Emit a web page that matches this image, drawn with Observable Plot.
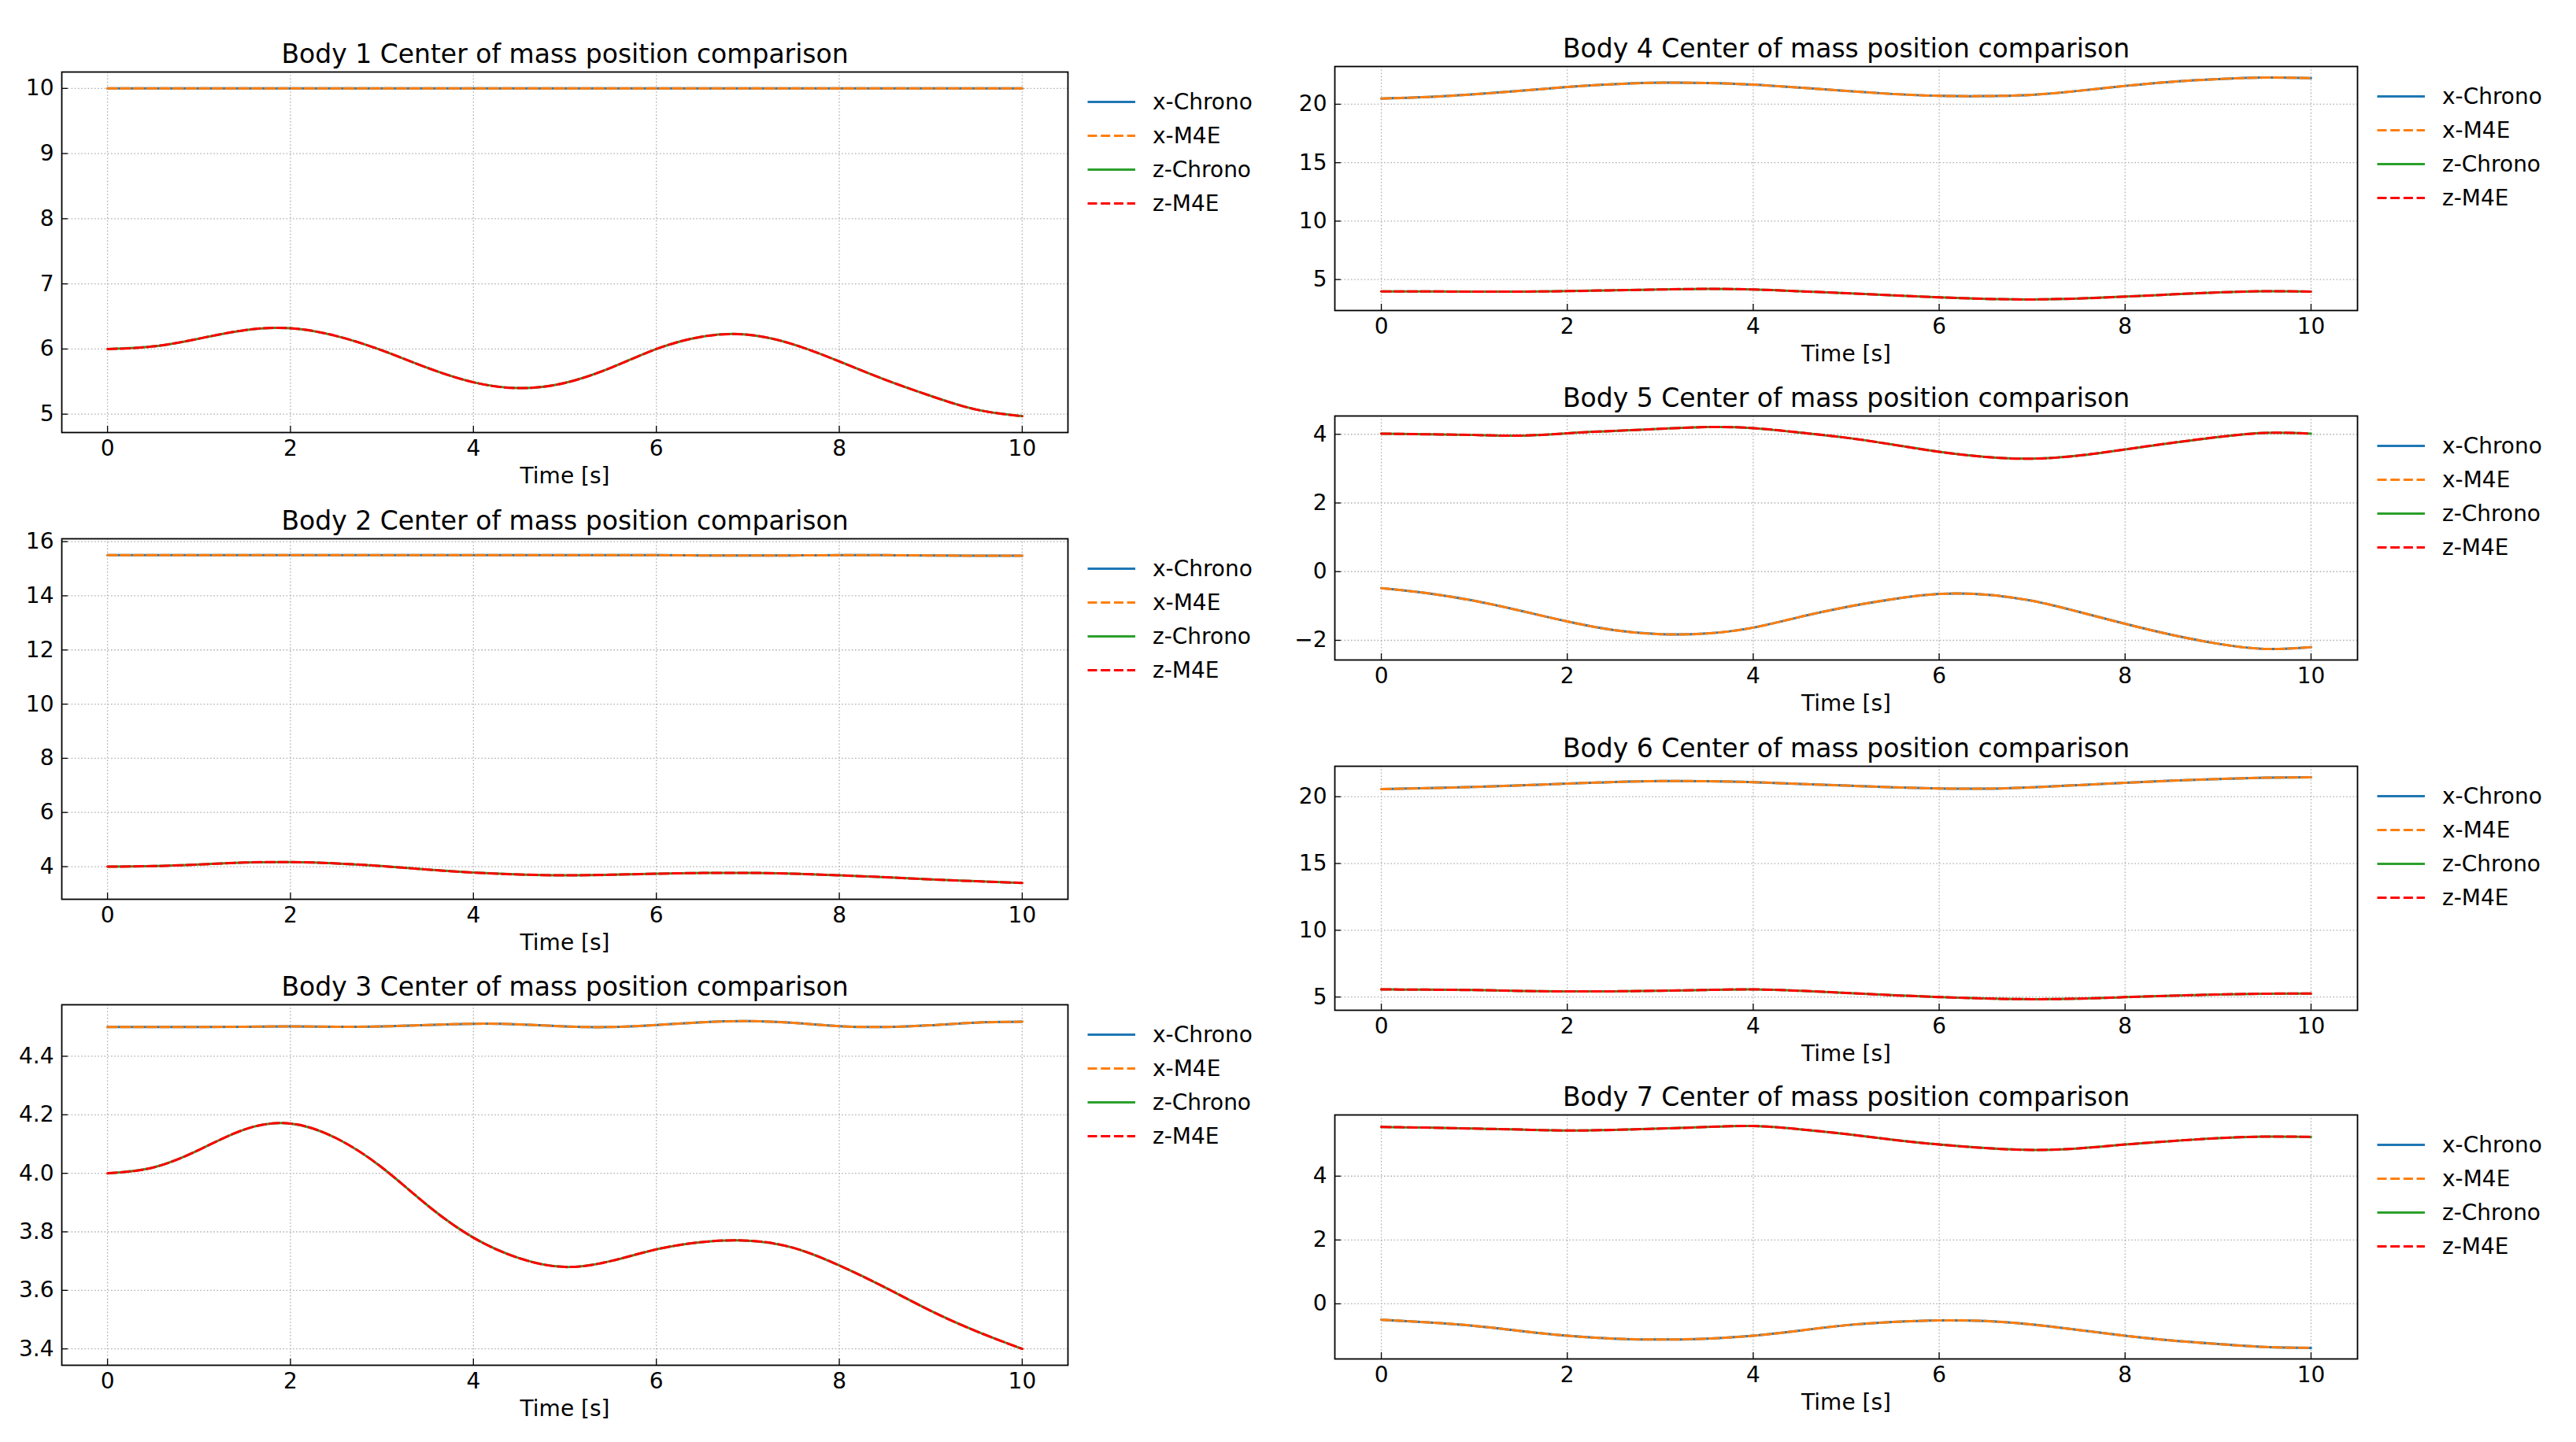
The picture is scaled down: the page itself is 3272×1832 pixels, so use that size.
<!DOCTYPE html>
<html><head><meta charset="utf-8">
<script src="https://cdn.jsdelivr.net/npm/d3@7"></script>
<script src="https://cdn.jsdelivr.net/npm/@observablehq/plot@0.6"></script>
<style>
html,body{margin:0;padding:0;background:#fff;}
#root{position:relative;width:3272px;height:1832px;background:#fff;font-family:"DejaVu Sans",sans-serif;overflow:hidden;}
.panel{position:absolute;}
.legend{position:absolute;overflow:visible;}
</style></head><body><div id="root"></div>
<script>
// ---------- data ----------
const time = [0,0.5,1,1.5,2,2.5,3,3.5,4,4.5,5,5.5,6,6.5,7,7.5,8,8.5,9,9.5,10];

const body1_x = [10,10,10,10,10,10,10,10,10,10,10,10,10,10,10,10,10,10,10,10,10];
const body1_z = [6.00,6.04,6.16,6.29,6.32,6.20,5.98,5.71,5.49,5.40,5.48,5.71,6.00,6.19,6.22,6.07,5.81,5.53,5.28,5.07,4.97];

const body2_x = [15.50,15.50,15.50,15.50,15.50,15.50,15.50,15.50,15.50,15.50,15.50,15.50,15.50,15.49,15.49,15.49,15.50,15.50,15.49,15.48,15.48];
const body2_z = [4.00,4.02,4.08,4.15,4.17,4.12,4.02,3.89,3.78,3.71,3.68,3.70,3.74,3.765,3.77,3.74,3.68,3.61,3.53,3.46,3.40];

const body3_x = [4.500,4.500,4.500,4.501,4.502,4.501,4.502,4.507,4.511,4.509,4.502,4.500,4.507,4.516,4.520,4.514,4.503,4.500,4.506,4.515,4.518];
const body3_z = [4.00,4.02,4.08,4.15,4.17,4.12,4.02,3.89,3.78,3.71,3.68,3.70,3.74,3.765,3.77,3.745,3.685,3.61,3.53,3.46,3.40];

const body4_x = [20.49,20.62,20.85,21.15,21.48,21.72,21.84,21.82,21.68,21.42,21.14,20.88,20.72,20.70,20.81,21.15,21.57,21.92,22.15,22.28,22.24];
const body4_z = [3.99,3.98,3.97,3.97,4.01,4.08,4.15,4.20,4.15,4.00,3.83,3.65,3.48,3.35,3.30,3.38,3.54,3.73,3.90,4.00,3.97];

const body5_x = [-0.48,-0.63,-0.85,-1.14,-1.45,-1.70,-1.82,-1.80,-1.63,-1.32,-1.03,-0.80,-0.65,-0.67,-0.85,-1.17,-1.52,-1.84,-2.10,-2.25,-2.20];
const body5_z = [4.02,4.00,3.98,3.96,4.03,4.10,4.16,4.21,4.18,4.05,3.90,3.70,3.49,3.34,3.29,3.38,3.56,3.75,3.92,4.04,4.02];

const body6_x = [20.57,20.64,20.73,20.85,20.98,21.10,21.17,21.16,21.09,20.96,20.83,20.71,20.62,20.60,20.70,20.87,21.04,21.20,21.33,21.42,21.45];
const body6_z = [5.57,5.55,5.52,5.46,5.42,5.43,5.47,5.53,5.57,5.47,5.31,5.14,5.00,4.89,4.84,4.88,4.99,5.10,5.19,5.25,5.26];

const body7_x = [-0.50,-0.58,-0.69,-0.85,-1.00,-1.09,-1.12,-1.09,-1.00,-0.84,-0.67,-0.57,-0.52,-0.54,-0.65,-0.82,-1.00,-1.15,-1.26,-1.35,-1.38];
const body7_z = [5.54,5.52,5.49,5.46,5.43,5.45,5.49,5.54,5.57,5.47,5.32,5.14,4.99,4.88,4.82,4.87,4.99,5.10,5.19,5.24,5.23];

const xTicks = [0,2,4,6,8,10];
const body1_yTicks = [5,6,7,8,9,10];
const body2_yTicks = [4,6,8,10,12,14,16];
const body3_yTicks = [3.4,3.6,3.8,4.0,4.2,4.4];
const body4_yTicks = [5,10,15,20];
const body5_yTicks = [-2,0,2,4];
const body6_yTicks = [5,10,15,20];
const body7_yTicks = [0,2,4];

const seriesNames = ["x-Chrono","x-M4E","z-Chrono","z-M4E"];
const titles = [1,2,3,4,5,6,7].map(i => `Body ${i} Center of mass position comparison`);
const xLabel = "Time [s]";

// ---------- styles / layout ----------
const seriesColors = ["#1f77b4","#ff7f0e","#2ca02c","#ff0000"];
const seriesDash = [null,"12,4.7",null,"12,4.7"];
const bodies = [
  {x: body1_x, z: body1_z, ticks: body1_yTicks, fmt: d3.format("d")},
  {x: body2_x, z: body2_z, ticks: body2_yTicks, fmt: d3.format("d")},
  {x: body3_x, z: body3_z, ticks: body3_yTicks, fmt: d3.format(".1f")},
  {x: body4_x, z: body4_z, ticks: body4_yTicks, fmt: d3.format("d")},
  {x: body5_x, z: body5_z, ticks: body5_yTicks, fmt: d3.format("d")},
  {x: body6_x, z: body6_z, ticks: body6_yTicks, fmt: d3.format("d")},
  {x: body7_x, z: body7_z, ticks: body7_yTicks, fmt: d3.format("d")}
];
const layout = [
  {left: 0, fl: 78, fw: 1278, top: 91.3, fh: 458},
  {left: 0, fl: 78, fw: 1278, top: 684, fh: 458},
  {left: 0, fl: 78, fw: 1278, top: 1276.4, fh: 458},
  {left: 1617, fl: 78, fw: 1299, top: 84, fh: 310},
  {left: 1617, fl: 78, fw: 1299, top: 528, fh: 310},
  {left: 1617, fl: 78, fw: 1299, top: 973, fh: 310},
  {left: 1617, fl: 78, fw: 1299, top: 1416, fh: 310}
];
const MT = 60, MB = 80, MR = 20;
const root = document.getElementById("root");
const gridStyle = {stroke: "#b0b0b0", strokeOpacity: 1, strokeDasharray: "1.6,2.6", strokeWidth: 1.3};

bodies.forEach((b, k) => {
  const L = layout[k];
  const seriesVals = [b.x, b.x, b.z, b.z];
  const all = [...b.x, ...b.z];
  const lo = d3.min(all), hi = d3.max(all), pad = (hi - lo) * 0.05;
  const marks = [
    Plot.gridX(xTicks, gridStyle),
    Plot.gridY(b.ticks, gridStyle),
    Plot.tickX(xTicks, {x: d => d, insetTop: L.fh - 8, stroke: "black", strokeWidth: 1.3}),
    Plot.tickY(b.ticks, {y: d => d, insetRight: L.fw - 8, stroke: "black", strokeWidth: 1.3})
  ];
  seriesNames.forEach((name, i) => {
    const rows = time.map((t, j) => ({t, v: seriesVals[i][j]}));
    marks.push(Plot.line(rows, {x: "t", y: "v", stroke: seriesColors[i], strokeWidth: 3,
      strokeDasharray: seriesDash[i], curve: "natural"}));
  });
  marks.push(
    Plot.frame({stroke: "black", strokeWidth: 1.8}),
    Plot.axisX(xTicks, {tickSize: 0, tickPadding: 10, fontSize: 28, label: null, tickFormat: d3.format("d")}),
    Plot.axisY(b.ticks, {tickSize: 0, tickPadding: 10, fontSize: 28, label: null, tickFormat: b.fmt}),
    Plot.text([xLabel], {text: d => d, frameAnchor: "bottom", dy: 56, fontSize: 28, lineAnchor: "middle"}),
    Plot.text([titles[k]], {text: d => d, frameAnchor: "top", dy: -22, fontSize: 33, lineAnchor: "middle"})
  );
  const chart = Plot.plot({
    width: L.fl + L.fw + MR,
    height: MT + L.fh + MB,
    marginLeft: L.fl, marginRight: MR, marginTop: MT, marginBottom: MB,
    x: {domain: [-0.5, 10.5]},
    y: {domain: [lo - pad, hi + pad]},
    style: {fontFamily: "'DejaVu Sans', sans-serif", fontSize: "28px", background: "transparent", overflow: "visible", color: "black"},
    marks
  });
  const wrap = document.createElement("div");
  wrap.className = "panel";
  wrap.style.left = L.left + "px";
  wrap.style.top = (L.top - MT) + "px";
  wrap.appendChild(chart);
  root.appendChild(wrap);

  // legend
  const frameRight = L.left + L.fl + L.fw;
  const lg = d3.select(root).append("svg").attr("class", "legend")
    .attr("width", 260).attr("height", 200)
    .style("left", (frameRight + 20) + "px").style("top", (L.top + 20) + "px");
  seriesNames.forEach((name, i) => {
    const y = 18.5 + 43 * i;
    lg.append("line").attr("x1", 5.5).attr("x2", 66).attr("y1", y).attr("y2", y)
      .attr("stroke", seriesColors[i]).attr("stroke-width", 2.8)
      .attr("stroke-dasharray", seriesDash[i]);
    lg.append("text").attr("x", 88).attr("y", y).attr("dy", "0.35em")
      .attr("font-family", "'DejaVu Sans', sans-serif").attr("font-size", 28)
      .attr("fill", "black").text(name);
  });
});
</script></body></html>
